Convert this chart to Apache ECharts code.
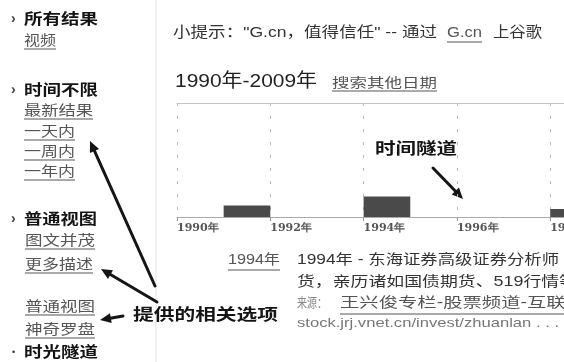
<!DOCTYPE html>
<html>
<head>
<meta charset="utf-8">
<script src="https://cdn.jsdelivr.net/npm/echarts@6/dist/echarts.min.js"></script>
<style>
  html, body { margin: 0; padding: 0; background: #ffffff; }
  #chart { width: 564px; height: 362px; }
</style>
</head>
<body>
<div id="chart"></div>
<script>
// ---- data ----
const barYears = [1991, 1994, 1998];
const barCounts = [10, 18, 7];
const axisStartYear = 1990;
const axisEndYear = 2010;
const tickStepYears = 2;
const tickSuffix = '年';

// ---- text helpers ----
const FAMILY = '"Liberation Sans", "Noto Sans CJK SC", sans-serif';
const mctx = document.createElement('canvas').getContext('2d');
function measure(str, size, weight) {
  mctx.font = (weight || 'normal') + ' ' + size + 'px ' + FAMILY;
  return mctx.measureText(str).width;
}
function T(str, x, y, size, w, o) {
  o = o || {};
  const weight = o.bold ? 'bold' : 'normal';
  const sx = w ? w / measure(str, size, weight) : 1;
  const els = [{
    type: 'text', x: x, y: y, scaleX: sx, silent: true,
    style: {
      text: str, fontSize: size, fontWeight: weight, fontFamily: FAMILY,
      fill: o.color || '#333', align: 'left', verticalAlign: 'middle'
    }
  }];
  if (o.underline) {
    const uy = y + (o.uoff || 8);
    els.push({
      type: 'line', silent: true,
      shape: { x1: x, y1: uy, x2: x + (o.uw || w), y2: uy },
      style: { stroke: o.color || '#555', lineWidth: 1 }
    });
  }
  return els;
}
function arrow(x1, y1, x2, y2, lw, head, hw) {
  lw = lw || 3; head = head || 11; hw = hw || 5;
  const dx = x2 - x1, dy = y2 - y1, len = Math.hypot(dx, dy);
  const ux = dx / len, uy = dy / len, nx = -uy, ny = ux;
  const bx = x2 - ux * head, by = y2 - uy * head;
  return [
    { type: 'line', silent: true, shape: { x1: x1, y1: y1, x2: bx + ux * 2, y2: by + uy * 2 },
      style: { stroke: '#151515', lineWidth: lw, lineCap: 'round' } },
    { type: 'polygon', silent: true,
      shape: { points: [[x2, y2], [bx + nx * hw, by + ny * hw], [bx - nx * hw, by - ny * hw]] },
      style: { fill: '#151515' } }
  ];
}

const LINK = '#555';
const BOLD = '#141414';
let g = [];
// separator
g.push({ type: 'line', silent: true, shape: { x1: 156, y1: 0, x2: 156, y2: 362 }, style: { stroke: '#e4e4e4', lineWidth: 1 } });
// sidebar bullets
[20, 91, 220].forEach(function (yy) { g = g.concat(T('›', 11, yy - 1, 14, 0, { bold: true, color: '#444' })); });
g = g.concat(T('•', 12, 353, 9, 0, { color: '#333' }));
// sidebar items
g = g.concat(T('所有结果', 24, 20, 15, 74, { bold: true, color: BOLD }));
g = g.concat(T('视频', 24, 41, 14, 32, { color: LINK, underline: true }));
g = g.concat(T('时间不限', 24, 91, 15, 74, { bold: true, color: BOLD }));
g = g.concat(T('最新结果', 24, 111, 14, 69, { color: LINK, underline: true }));
g = g.concat(T('一天内', 24, 132, 14, 51, { color: LINK, underline: true }));
g = g.concat(T('一周内', 24, 152, 14, 51, { color: LINK, underline: true }));
g = g.concat(T('一年内', 24, 172, 14, 51, { color: LINK, underline: true }));
g = g.concat(T('普通视图', 24, 220, 15, 73, { bold: true, color: BOLD }));
g = g.concat(T('图文并茂', 25, 241, 14, 70, { color: LINK, underline: true }));
g = g.concat(T('更多描述', 25, 265, 14, 68, { color: LINK, underline: true }));
g = g.concat(T('普通视图', 25, 307, 14, 70, { color: LINK, underline: true }));
g = g.concat(T('神奇罗盘', 25, 330, 14, 70, { color: LINK, underline: true }));
g = g.concat(T('时光隧道', 24, 353, 15, 74, { bold: true, color: BOLD }));
// header
g = g.concat(T('小提示："G.cn，值得信任" -- 通过', 173, 33, 15, 264, { color: '#333' }));
g = g.concat(T('G.cn', 447, 33, 15, 35, { color: LINK, underline: true, uoff: 9 }));
g = g.concat(T('上谷歌', 493, 33, 15, 49, { color: '#333' }));
g = g.concat(T('1990年-2009年', 175, 82, 19, 142, { color: '#222' }));
g = g.concat(T('搜索其他日期', 332, 83, 13, 105, { color: LINK, underline: true }));
// annotations
g = g.concat(T('时间隧道', 375, 150, 16, 82, { bold: true, color: BOLD }));
g = g.concat(T('提供的相关选项', 133, 316, 16, 145, { bold: true, color: BOLD }));
g = g.concat(arrow(433, 168, 463, 199));
g = g.concat(arrow(155, 286, 90, 141));
g = g.concat(arrow(157, 302, 101, 269));
g = g.concat(arrow(123, 316, 100, 320));
// result
g = g.concat(T('1994年', 228, 260, 14, 52, { color: LINK, underline: true, uoff: 10 }));
g = g.concat(T('1994年 - 东海证券高级证券分析师', 297, 260, 14, 262, { color: '#333' }));
g = g.concat(T('货，亲历诸如国债期货、519行情等', 297, 282, 14, 280, { color: '#333' }));
g = g.concat(T('来源：', 297, 303, 13, 30, { color: '#888' }));
g = g.concat(T('王兴俊专栏-股票频道-互联网', 340, 303, 14, 245, { color: LINK, underline: true, uoff: 11 }));
g = g.concat(T('stock.jrj.vnet.cn/invest/zhuanlan . . .', 297, 323, 13, 262, { color: '#777' }));

const chart = echarts.init(document.getElementById('chart'), null, { renderer: 'canvas' });
chart.setOption({
  animation: false,
  backgroundColor: '#ffffff',
  grid: { left: 177, top: 103, width: 933, height: 114, containLabel: false, outerBoundsMode: 'none' },
  xAxis: [{
    type: 'value', min: axisStartYear, max: axisEndYear, interval: tickStepYears, position: 'bottom',
    axisLine: { show: true, lineStyle: { color: '#aaa', width: 1 } },
    axisTick: { show: true, length: 4, lineStyle: { color: '#999' } },
    axisLabel: {
      formatter: function (v) { return v + tickSuffix; },
      align: 'left', margin: 6, fontSize: 11, fontWeight: 'bold',
      fontFamily: '"DejaVu Serif", serif', color: '#555',
      showMinLabel: true, hideOverlap: false
    },
    splitLine: { show: true, lineStyle: { type: [3, 10], color: '#bbb', width: 1 } }
  }, {
    type: 'value', min: axisStartYear, max: axisEndYear, position: 'top',
    axisLine: { show: true, lineStyle: { color: '#c4c4c4', width: 1 } },
    axisTick: { show: false }, axisLabel: { show: false }, splitLine: { show: false }
  }],
  yAxis: { type: 'value', min: 0, max: 100, show: false },
  series: [{
    type: 'custom',
    xAxisIndex: 0,
    data: barYears.map(function (y, i) { return [y, barCounts[i]]; }),
    renderItem: function (params, api) {
      const yr = api.value(0), v = api.value(1);
      const p0 = api.coord([yr, v]);
      const p1 = api.coord([yr + 1, 0]);
      return {
        type: 'rect',
        shape: { x: p0[0], y: p0[1], width: p1[0] - p0[0], height: p1[1] - p0[1] },
        style: { fill: '#4a4a4a' }
      };
    }
  }],
  graphic: { elements: g }
});
</script>
</body>
</html>
